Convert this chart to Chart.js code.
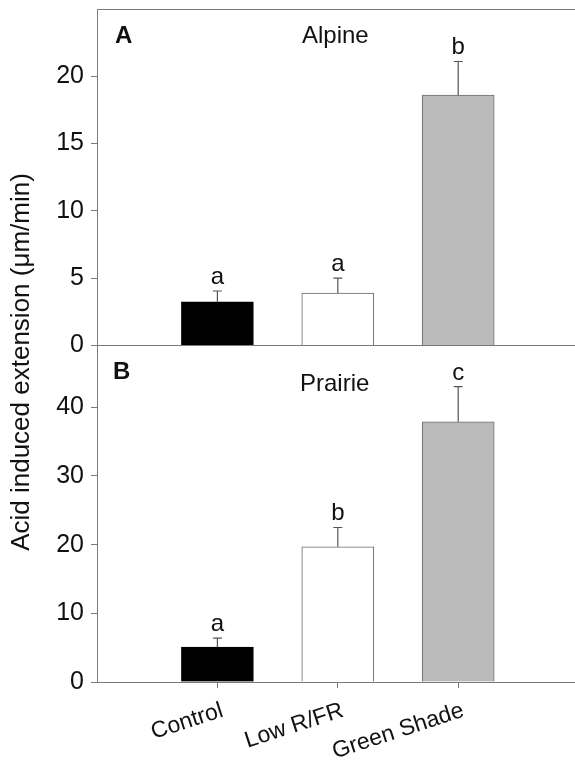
<!DOCTYPE html>
<html>
<head>
<meta charset="utf-8">
<script src="https://cdn.jsdelivr.net/npm/chart.js@4.4.0/dist/chart.umd.min.js"></script>
<style>
  html, body { margin: 0; padding: 0; background: #fff; }
  #wrap { width: 575px; height: 762px; }
</style>
</head>
<body>
<div id="wrap"><canvas id="grafico" width="575" height="762"></canvas></div>
<script>
// --- DATA ---
const categories = ['Control', 'Low R/FR', 'Green Shade'];
const alpineMeans = [3.25, 3.9, 18.6];
const alpineErrors = [0.8, 1.1, 2.5];
const alpineLetters = ['a', 'a', 'b'];
const prairieMeans = [5.1, 19.7, 37.9];
const prairieErrors = [1.3, 2.8, 5.1];
const prairieLetters = ['a', 'b', 'c'];
const alpineTicks = [0, 5, 10, 15, 20];
const prairieTicks = [0, 10, 20, 30, 40];
const categoryTicks = [1, 2, 3];

// --- STYLE ---
const FONT = '"Liberation Sans", Arial, sans-serif';
const AXIS_COLOR = '#7a7a7a';
const TEXT_COLOR = '#111';
const barFill = ['#000000', '#ffffff', '#bababa'];
const barEdge = ['#000000', '#666666', '#6e6e6e'];

function points(values) {
    return values.map((v, i) => ({ x: categoryTicks[i], y: v }));
}

// error bars + significance letters, drawn through the y scales
const errorBarsPlugin = {
    id: 'errorBars',
    afterDatasetsDraw(chart) {
        const ctx = chart.ctx;
        ctx.save();
        chart.data.datasets.forEach((ds, di) => {
            const yScale = chart.scales[ds.yAxisID];
            chart.getDatasetMeta(di).data.forEach((bar, i) => {
                const base = yScale.getPixelForValue(ds.data[i].y);
                const top = yScale.getPixelForValue(ds.data[i].y + ds.errors[i]);
                ctx.strokeStyle = '#555';
                ctx.lineWidth = 1.2;
                ctx.beginPath();
                ctx.moveTo(bar.x, base);
                ctx.lineTo(bar.x, top);
                ctx.moveTo(bar.x - 4.5, top);
                ctx.lineTo(bar.x + 4.5, top);
                ctx.stroke();
                ctx.fillStyle = TEXT_COLOR;
                ctx.font = '24px ' + FONT;
                ctx.textAlign = 'center';
                ctx.textBaseline = 'alphabetic';
                ctx.fillText(ds.letters[i], bar.x, top - 7);
            });
        });
        ctx.restore();
    }
};

// frame top line, panel labels and the shared y title
const labelsPlugin = {
    id: 'panelLabels',
    afterDraw(chart) {
        const ctx = chart.ctx;
        const area = chart.chartArea;
        const yA = chart.scales.yA;
        const yB = chart.scales.yB;
        ctx.save();
        ctx.strokeStyle = AXIS_COLOR;
        ctx.lineWidth = 1;
        ctx.beginPath();
        ctx.moveTo(area.left, area.top + 0.5);
        ctx.lineTo(area.right, area.top + 0.5);
        ctx.stroke();

        ctx.fillStyle = TEXT_COLOR;
        ctx.textAlign = 'left';
        ctx.textBaseline = 'alphabetic';
        ctx.font = 'bold 24px ' + FONT;
        ctx.fillText('A', 115, yA.top + 34);
        ctx.fillText('B', 113, yB.top + 33);
        ctx.font = '24px ' + FONT;
        ctx.fillText('Alpine', 302, yA.top + 34);
        ctx.fillText('Prairie', 300, yB.top + 45);

        ctx.translate(22, 362);
        ctx.rotate(-Math.PI / 2);
        ctx.textAlign = 'center';
        ctx.textBaseline = 'middle';
        ctx.font = '26px ' + FONT;
        ctx.fillText('Acid induced extension (\u03BCm/min)', 0, 0);
        ctx.restore();
    }
};

function yScale(max, ticks) {
    return {
        type: 'linear',
        position: 'left',
        stack: 'panels',
        stackWeight: 1,
        min: 0,
        max: max,
        afterBuildTicks: s => { s.ticks = ticks.map(v => ({ value: v })); },
        afterFit: s => { s.width = 97; s.paddingTop = 0; s.paddingBottom = 0; },
        border: { color: AXIS_COLOR, width: 1 },
        grid: {
            color: c => (max === 25 && c.tick && c.tick.value === 0) ? AXIS_COLOR : 'transparent',
            tickColor: AXIS_COLOR,
            tickLength: 6,
            lineWidth: 1
        },
        ticks: {
            color: TEXT_COLOR,
            font: { family: FONT, size: 25 },
            padding: 7
        }
    };
}

const chart = new Chart(document.getElementById('grafico').getContext('2d'), {
    type: 'bar',
    data: {
        datasets: [
            {
                data: points(alpineMeans),
                errors: alpineErrors,
                letters: alpineLetters,
                yAxisID: 'yA',
                xAxisID: 'x',
                grouped: false,
                barThickness: 72,
                backgroundColor: barFill,
                borderColor: barEdge,
                borderWidth: 1
            },
            {
                data: points(prairieMeans),
                errors: prairieErrors,
                letters: prairieLetters,
                yAxisID: 'yB',
                xAxisID: 'x',
                grouped: false,
                barThickness: 72,
                backgroundColor: barFill,
                borderColor: barEdge,
                borderWidth: 1
            }
        ]
    },
    options: {
        responsive: false,
        animation: false,
        layout: { padding: { top: 9, right: 0, left: 0, bottom: 0 } },
        plugins: { legend: { display: false }, tooltip: { enabled: false } },
        scales: {
            x: {
                type: 'linear',
                min: 0,
                max: 3.97,
                offset: false,
                afterBuildTicks: s => { s.ticks = categoryTicks.map(v => ({ value: v })); },
                afterFit: s => { s.height = 80; s.paddingLeft = 0; s.paddingRight = 0; },
                border: { color: AXIS_COLOR, width: 1 },
                grid: { drawOnChartArea: false, offset: false, tickColor: AXIS_COLOR, tickLength: 6 },
                ticks: {
                    color: TEXT_COLOR,
                    font: { family: FONT, size: 23 },
                    minRotation: 18,
                    maxRotation: 18,
                    padding: 9,
                    labelOffset: 5,
                    callback: v => categories[v - 1]
                }
            },
            yB: yScale(49, prairieTicks),
            yA: yScale(25, alpineTicks)
        }
    },
    plugins: [errorBarsPlugin, labelsPlugin]
});
</script>
</body>
</html>
